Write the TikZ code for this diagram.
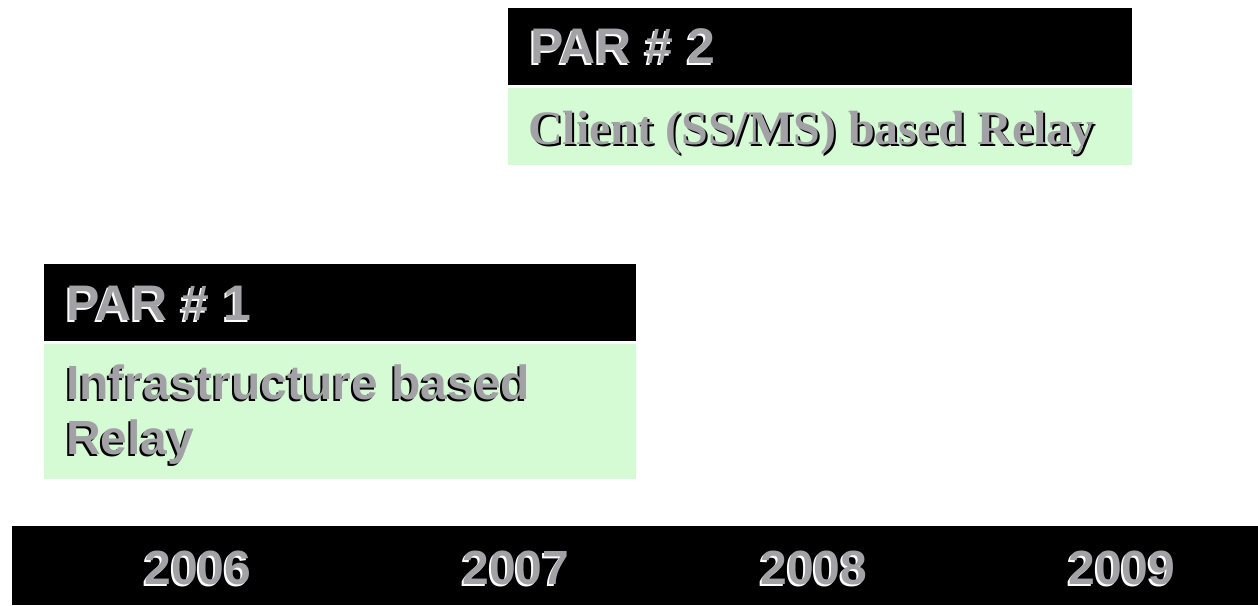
\documentclass[tikz,border=0pt]{standalone}
\usepackage{fontspec}
\setmainfont{Liberation Sans}
\newfontfamily\relayserif{Liberation Serif}
\usepackage{xcolor}
\usepackage{tikz}

\definecolor{bargreen}{RGB}{212,251,212}
\definecolor{lblgray}{RGB}{162,162,166}
\tikzset{
  blackbar/.style={fill=black,draw=none,inner sep=0pt,anchor=north west},
  greenbar/.style={fill=bargreen,draw=none,inner sep=0pt,anchor=north west},
  lbl/.style={text=lblgray,font=\fontsize{48}{55}\selectfont\bfseries,inner sep=0pt,anchor=base west,align=left},
  headlbl/.style={lbl,font=\fontsize{50}{55}\selectfont\bfseries},
  yearlbl/.style={lbl,anchor=base},
}

\begin{document}
\begin{tikzpicture}[x=1pt,y=-1pt]
\useasboundingbox (0,0) rectangle (1258,605);
%% PAR 2
\node[blackbar,minimum width=624pt,minimum height=77pt] (par2head) at (508,8) {};
\node[greenbar,minimum width=624pt,minimum height=77pt] (par2body) at (508,88) {};
\node[headlbl,text=white] (par2shadow) at (528,65) {PAR \# 2};
\node[headlbl] (par2) at (530,63) {PAR \# 2};
\node[lbl,text=black,font=\fontsize{48}{55}\selectfont\relayserif\bfseries] (clientshadow) at (530,146) {Client (SS/MS) based Relay};
\node[lbl,font=\fontsize{48}{55}\selectfont\relayserif\bfseries] (client) at (528,144) {Client (SS/MS) based Relay};
%% PAR 1
\node[blackbar,minimum width=592pt,minimum height=77pt] (par1head) at (44,264) {};
\node[greenbar,minimum width=592pt,minimum height=135pt] (par1body) at (44,344) {};
\node[headlbl,text=white] (par1shadow) at (64,322) {PAR \# 1};
\node[headlbl] (par1) at (66,320) {PAR \# 1};
\node[lbl,text=black] (infrashadow) at (64,456) {Infrastructure based\\Relay};
\node[lbl] (infra) at (66,454) {Infrastructure based\\Relay};
%% time line
\node[blackbar,minimum width=1246pt,minimum height=79pt] (timebar) at (12,526) {};
\foreach \yr/\xc in {2006/198,2007/516,2008/814,2009/1122}{
  \node[yearlbl,text=white] (y\yr shadow) at (\xc-2,586) {\yr};
  \node[yearlbl] (y\yr) at (\xc,584) {\yr};
}
\end{tikzpicture}
\end{document}
